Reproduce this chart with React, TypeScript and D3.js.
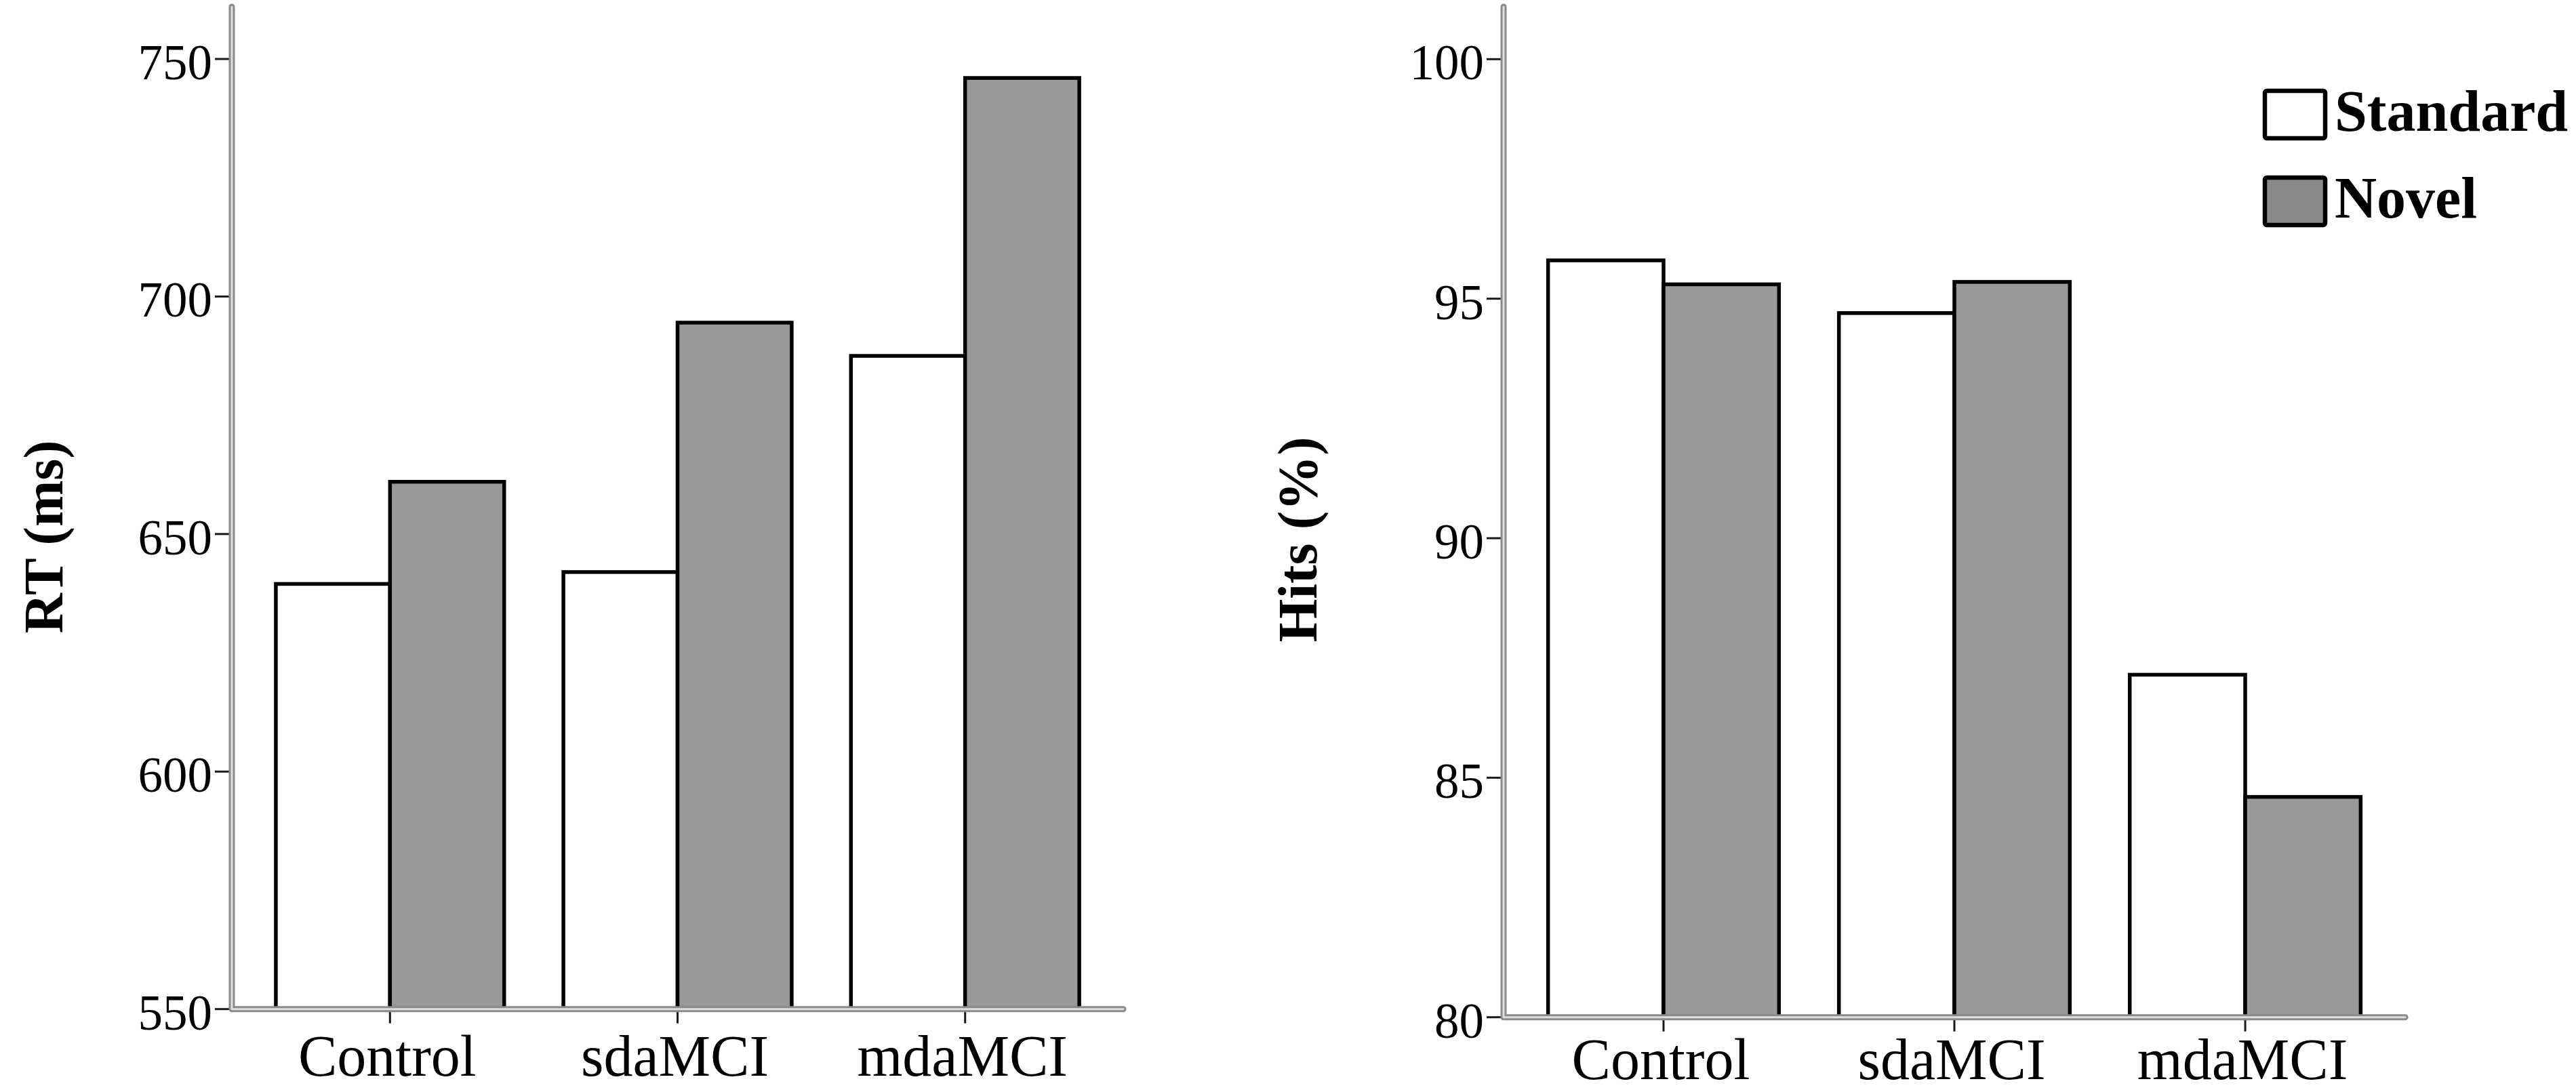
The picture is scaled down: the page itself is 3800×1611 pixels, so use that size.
import React from "react";
import * as d3 from "d3";

// ---- Data ----
const categories = ["Control", "sdaMCI", "mdaMCI"];
const seriesNames = ["Standard", "Novel"];

const rtStandard = [639.5, 642, 687.5];
const rtNovel = [661, 694.5, 746];
const rtTicks = [550, 600, 650, 700, 750];

const hitsStandard = [95.8, 94.7, 87.15];
const hitsNovel = [95.3, 95.35, 84.6];
const hitsTicks = [80, 85, 90, 95, 100];

const FONT = "'Liberation Serif', 'Times New Roman', serif";
const W = 3800;
const H = 1611;

type Panel = {
  title: string;
  std: number[];
  nov: number[];
  ticks: number[];
  domain: [number, number];
  x0: number;
  x1: number;
  yBase: number;
  yTop: number;
  axisTop: number;
  titleX: number;
  titleY: number;
  labelBaseline: number;
};

const panels: Panel[] = [
  {
    title: "RT (ms)",
    std: rtStandard,
    nov: rtNovel,
    ticks: rtTicks,
    domain: [550, 750],
    x0: 342,
    x1: 1657,
    yBase: 1488.7,
    yTop: 87,
    axisTop: 10,
    titleX: 92,
    titleY: 792,
    labelBaseline: 1587,
  },
  {
    title: "Hits (%)",
    std: hitsStandard,
    nov: hitsNovel,
    ticks: hitsTicks,
    domain: [80, 100],
    x0: 2218,
    x1: 3548,
    yBase: 1500.7,
    yTop: 87.3,
    axisTop: 10,
    titleX: 1942,
    titleY: 796,
    labelBaseline: 1592,
  },
];

function PanelView({ p }: { p: Panel }) {
  const x = d3
    .scaleBand<string>()
    .domain(categories)
    .range([p.x0, p.x1])
    .paddingInner(0)
    .paddingOuter(0.05);
  const y = d3.scaleLinear().domain(p.domain).range([p.yBase, p.yTop]);
  const step = x.step();
  const bw = step * 0.397;
  const base = y(p.domain[0]);
  const axisPath = `M${p.x0},${p.axisTop} L${p.x0},${base} L${p.x1},${base}`;

  return (
    <g>
      {/* bars */}
      {categories.map((c, i) => {
        const cx = (x(c) as number) + x.bandwidth() / 2;
        const ys = y(p.std[i]);
        const yn = y(p.nov[i]);
        return (
          <g key={c}>
            <rect
              x={cx - bw}
              y={ys}
              width={bw}
              height={base - ys}
              fill="#ffffff"
              stroke="#000"
              strokeWidth={5.5}
            />
            <rect
              x={cx}
              y={yn}
              width={bw}
              height={base - yn}
              fill="#999999"
              stroke="#000"
              strokeWidth={5.5}
            />
          </g>
        );
      })}
      {/* y ticks */}
      {p.ticks.map((t) => (
        <g key={t}>
          <line
            x1={p.x0 - 25}
            x2={p.x0 - 3}
            y1={y(t)}
            y2={y(t)}
            stroke="#1a1a1a"
            strokeWidth={3}
          />
          <text
            x={p.x0 - 29}
            y={y(t) + 30}
            textAnchor="end"
            fontFamily={FONT}
            fontSize={73}
            fill="#000"
          >
            {t}
          </text>
        </g>
      ))}
      {/* x ticks and labels */}
      {categories.map((c) => {
        const cx = (x(c) as number) + x.bandwidth() / 2;
        return (
          <g key={c}>
            <line
              x1={cx}
              x2={cx}
              y1={base}
              y2={base + 21}
              stroke="#1a1a1a"
              strokeWidth={3}
            />
            <text
              x={cx - 4}
              y={p.labelBaseline}
              textAnchor="middle"
              fontFamily={FONT}
              fontSize={86}
              fill="#000"
            >
              {c}
            </text>
          </g>
        );
      })}
      {/* axis lines (double-line look) */}
      <path
        d={axisPath}
        fill="none"
        stroke="#8a8a8a"
        strokeWidth={9}
        strokeLinecap="round"
        strokeLinejoin="round"
      />
      <path
        d={axisPath}
        fill="none"
        stroke="#dedede"
        strokeWidth={3}
        strokeLinecap="round"
        strokeLinejoin="round"
      />
      {/* y title */}
      <text
        transform={`translate(${p.titleX},${p.titleY}) rotate(-90)`}
        textAnchor="middle"
        fontFamily={FONT}
        fontWeight="bold"
        fontSize={82}
        fill="#000"
      >
        {p.title}
      </text>
    </g>
  );
}

const legendFills = ["#ffffff", "#8a8a8a"];
const legendY = [131, 259];

export default function App() {
  return (
    <svg
      width={W}
      height={H}
      viewBox={`0 0 ${W} ${H}`}
      style={{ position: "absolute", left: 0, top: 0, display: "block", background: "#fff" }}
    >
      <rect x={0} y={0} width={W} height={H} fill="#fff" />
      {panels.map((p) => (
        <PanelView key={p.title} p={p} />
      ))}
      {/* legend */}
      {seriesNames.map((s, i) => (
        <g key={s}>
          <rect
            x={3341}
            y={legendY[i] + 3}
            width={89}
            height={70}
            rx={3}
            fill={legendFills[i]}
            stroke="#000"
            strokeWidth={6.5}
          />
          <text
            x={3444}
            y={legendY[i] + 62}
            fontFamily={FONT}
            fontWeight="bold"
            fontSize={86}
            fill="#000"
          >
            {s}
          </text>
        </g>
      ))}
    </svg>
  );
}
